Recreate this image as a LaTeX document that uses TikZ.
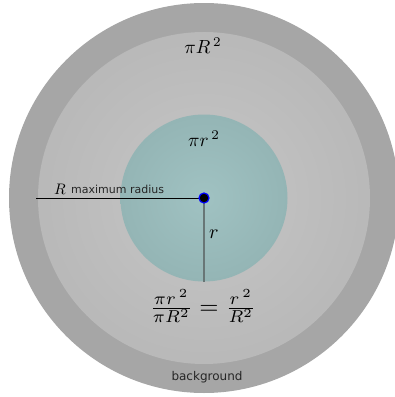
\documentclass[tikz,border=0pt]{standalone}
\usepackage{fontspec}
\newfontfamily\dejavu{DejaVu Sans}
\definecolor{ringgray}{RGB}{166,166,166}
\definecolor{innerlight}{RGB}{198,198,198}
\definecolor{inneredge}{RGB}{171,171,171}
\definecolor{tealin}{RGB}{160,194,194}
\definecolor{tealout}{RGB}{136,168,168}
\definecolor{rline}{RGB}{104,118,118}
\pgfdeclareradialshading{grayshade}{\pgfpoint{0bp}{0bp}}{color(0bp)=(innerlight); color(50bp)=(inneredge)}
\pgfdeclareradialshading{tealshade}{\pgfpoint{0bp}{0bp}}{color(0bp)=(tealin); color(50bp)=(tealout)}
\tikzset{
  mathlabel/.style={inner sep=0pt, font=\normalsize, scale=1.9},
  sanslabel/.style={inner sep=0pt, font=\dejavu\fontsize{11}{13}\selectfont, text=black!85},
}
\begin{document}
\begin{tikzpicture}[x=1pt,y=-1pt]
\useasboundingbox (0,0) rectangle (395,397);
\clip (0,0) rectangle (395,397);
\coordinate (c) at (204,198);
\fill[ringgray] (c) circle[radius=195];
\shade[shading=grayshade] (c) circle[radius=166];
\shade[shading=tealshade] (c) circle[radius=83.5];
\coordinate (left) at (36,198);
\coordinate (bottom) at (204,282);
\draw[rline, line width=2pt] (c) -- (bottom);
\draw[black, line width=1pt] (left) -- (c);
\node[circle, fill=black, draw=blue, line width=1.2pt, minimum size=10pt, inner sep=0pt] (dot) at (c) {};
\node[mathlabel, scale=0.8] (bigR) at (60,189) {$R$};
\node[sanslabel, anchor=west] (maxr) at (71,189) {maximum radius};
\node[mathlabel] (areaR) at (203,46) {$\pi R^{\,2}$};
\node[mathlabel] (arear) at (204,139) {$\pi r^{\,2}$};
\node[mathlabel, scale=1.05] (rlab) at (214,234) {$r$};
\node[mathlabel, scale=1.3] (ratio) at (203,306) {$\frac{\pi r^{\,2}}{\pi R^2} = \frac{r^{\,2}}{R^2}$};
\node[sanslabel, font=\dejavu\fontsize{12}{14}\selectfont] (bg) at (207,377) {background};
\end{tikzpicture}
\end{document}
